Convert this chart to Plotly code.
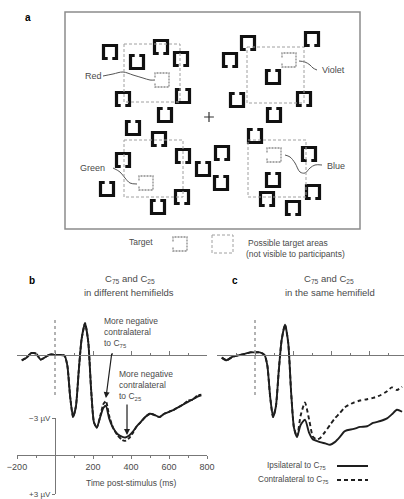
import plotly.graph_objects as go

W, H = 404, 499
def X(px): return px / W
def Y(py): return 1 - py / H

FONT = "Liberation Sans, Arial, sans-serif"
TXT = "#4a4a4a"
INK = "#1e1e1e"

# ---------------- data: ERP waveforms (µV, negative plotted upward) ----------------
t_b = [-175, -150, -125, -100, -75, -50, -25, 0, 25, 50, 65, 80, 95, 110, 125, 140, 158, 175,
       190, 205, 220, 240, 255, 268, 285, 305, 330, 355, 370, 390, 410, 430, 450, 475, 500,
       525, 550, 575, 600, 625, 650, 675, 700, 725, 750, 770]
b_ipsi = [0.4, 0.2, -0.15, -0.1, 0.35, 0.15, -0.05, 0.0, 0.0, 0.05, 0.8, 3.2, 4.7, 3.9, 1.2, -1.2, -2.4, -1.0,
          2.6, 5.1, 5.5, 4.6, 4.0, 3.85, 4.8, 5.5, 6.0, 6.2, 6.25, 6.1, 5.8, 5.4, 5.1, 4.7, 4.45,
          4.55, 4.7, 4.45, 4.3, 4.15, 3.95, 3.75, 3.55, 3.35, 3.15, 3.05]
b_contra = [0.4, 0.2, -0.15, -0.1, 0.35, 0.15, -0.05, 0.0, 0.0, 0.05, 0.8, 3.2, 4.7, 3.9, 1.2, -1.2, -2.4, -1.0,
            2.6, 5.1, 5.5, 4.5, 3.7, 3.5, 4.6, 5.5, 6.1, 6.45, 6.5, 6.3, 5.9, 5.4, 5.1, 4.7, 4.45,
            4.55, 4.7, 4.45, 4.3, 4.15, 3.95, 3.75, 3.45, 3.4, 3.05, 3.0]

t_c = [-175, -150, -120, -80, -50, -25, 0, 25, 50, 65, 80, 95, 110, 125, 140, 158, 175, 190, 205, 221,
       240, 263, 285, 305, 325, 342, 370, 395, 420, 447, 470, 484, 520, 553, 590, 621, 660, 695, 720, 747, 774]
c_ipsi = [0.2, 0.4, 0.15, 0.0, -0.1, -0.2, -0.2, -0.2, 0.0, 0.8, 3.2, 4.7, 3.9, 1.2, -1.1, -2.3, -0.9, 2.8, 5.5, 6.2,
          5.3, 4.9, 5.9, 6.4, 6.5, 6.6, 6.7, 6.8, 6.6, 6.2, 5.8, 5.7, 5.6, 5.45, 5.4, 5.15, 5.0, 4.8, 4.5, 4.15, 4.3]
c_contra = [0.2, 0.4, 0.15, 0.0, -0.1, -0.2, -0.2, -0.2, 0.0, 0.8, 3.2, 4.7, 3.9, 1.2, -1.1, -2.3, -0.9, 2.8, 5.5, 6.2,
            4.6, 3.6, 4.9, 6.2, 6.4, 6.3, 5.8, 5.3, 4.8, 4.4, 4.0, 3.85, 3.6, 3.45, 3.35, 3.25, 3.05, 2.75, 2.45, 2.65, 2.4]

time_ticks = [-200, 200, 400, 600, 800]
time_labels = ["\u2212200", "200", "400", "600", "800"]
zero_ticks = [-200, 0, 200, 400, 600, 800]

# ---------------- data: search display (panel a), pixel-like display units ----------------
item_x = [110, 137, 161, 181, 123, 183, 165, 133, 159, 123, 183, 107, 158, 182, 203, 222, 221,
          230, 248, 312, 273, 237, 304, 274, 255, 309, 273, 313, 267, 293]
item_y = [52, 62, 47, 59, 99, 96, 115, 128, 139, 160, 156, 189, 207, 197, 169, 153, 183,
          60, 43, 39, 77, 100, 99, 115, 136, 154, 180, 192, 199, 208]
item_gap = ["b", "t", "b", "b", "b", "t", "t", "t", "b", "b", "b", "t", "t", "b", "t", "b", "t",
            "b", "b", "b", "t", "t", "b", "t", "t", "b", "t", "b", "b", "b"]
target_names = ["Red", "Violet", "Green", "Blue"]
target_x = [162, 289, 146, 274]
target_y = [80, 60, 183, 155]
label_x = [93, 333, 92, 336]
label_y = [76, 70, 168, 166]
area_x0 = [124, 247, 124, 248]
area_x1 = [180, 304, 183, 306]
area_y0 = [44, 47, 140, 140]
area_y1 = [102, 103, 197, 197]
conn_x = [[103, 113, 123, 133, 143, 150, 155],
          [299, 305, 310, 313, 317],
          [113, 120, 125, 130, 137],
          [285, 290, 295, 300, 305, 310, 315, 322]]
conn_y = [[76, 74, 72, 75, 78, 80, 80],
          [61, 62, 65, 68, 70],
          [168, 172, 178, 183, 184],
          [155, 157, 163, 172, 173, 168, 165, 165]]

fig = go.Figure()

# ---- panel a drawing ----
def c_path(cx, cy, gap, h=6.5, g=2.3):
    s = 1 if gap == "b" else -1
    pts = [(cx - g, cy + s * h), (cx - h, cy + s * h), (cx - h, cy - s * h),
           (cx + h, cy - s * h), (cx + h, cy + s * h), (cx + g, cy + s * h)]
    return [p[0] for p in pts] + [None], [p[1] for p in pts] + [None]

ix, iy = [], []
for cx, cy, gp in zip(item_x, item_y, item_gap):
    a, b = c_path(cx, cy, gp)
    ix += a; iy += b
fig.add_trace(go.Scatter(x=ix, y=iy, mode="lines", line=dict(color="#111", width=3.2),
                         xaxis="x4", yaxis="y4", hoverinfo="skip", showlegend=False))

def target_path(cx, cy, h=7.0, g=2.5):
    pts = [(cx - h, cy - g), (cx - h, cy - h), (cx + h, cy - h), (cx + h, cy + h),
           (cx - h, cy + h), (cx - h, cy + g)]
    return [p[0] for p in pts] + [None], [p[1] for p in pts] + [None]

tx, ty = [], []
for cx, cy in zip(target_x + [180], target_y + [244]):
    a, b = target_path(cx, cy)
    tx += a; ty += b
fig.add_trace(go.Scatter(x=tx, y=ty, mode="lines", line=dict(color="#8a8a8a", width=1.3, dash="2px,1px"),
                         xaxis="x4", yaxis="y4", hoverinfo="skip", showlegend=False))

for cxs, cys in zip(conn_x, conn_y):
    fig.add_trace(go.Scatter(x=cxs, y=cys, mode="lines", line=dict(color="#555", width=1, shape="spline"),
                             xaxis="x4", yaxis="y4", hoverinfo="skip", showlegend=False))

fig.add_trace(go.Scatter(x=[209], y=[117], mode="markers",
                         marker=dict(symbol="cross-thin", size=7, line=dict(color="#333", width=1.2)),
                         xaxis="x4", yaxis="y4", hoverinfo="skip", showlegend=False))

shapes = []
shapes.append(dict(type="rect", xref="x4", yref="y4", x0=65, x1=360, y0=12, y1=229,
                   line=dict(color="#8c8c8c", width=1.5)))
for x0, x1, y0, y1 in zip(area_x0 + [212], area_x1 + [233], area_y0 + [235], area_y1 + [253]):
    shapes.append(dict(type="rect", xref="x4", yref="y4", x0=x0, x1=x1, y0=y0, y1=y1,
                       line=dict(color="#a0a0a0", width=1, dash="3px,2px")))

annotations = []
def ann(x, y, text, size=9, xanchor="center", color=TXT, bold=False, align="center", yanchor="middle"):
    annotations.append(dict(x=x, y=y, xref="paper", yref="paper", text=("<b>%s</b>" % text) if bold else text,
                            showarrow=False, xanchor=xanchor, yanchor=yanchor, align=align,
                            font=dict(family=FONT, size=size, color=color)))

for name, lx, ly in zip(target_names, label_x, label_y):
    ann(X(lx), Y(ly), name, size=9)
ann(X(141), Y(242), "Target", size=8.5)
ann(X(246), Y(243), "Possible target areas", size=8.5, xanchor="left")
ann(X(244), Y(254), "(not visible to participants)", size=8.5, xanchor="left")

ann(X(28), Y(17), "a", size=10, color="#000", bold=True)
ann(X(32), Y(280), "b", size=10, color="#000", bold=True)
ann(X(235), Y(280), "c", size=10, color="#000", bold=True)

ann(X(130), Y(279), "C<sub>75</sub> and C<sub>25</sub>", size=9.5)
ann(X(129), Y(292), "in different hemifields", size=9.5)
ann(X(329), Y(279), "C<sub>75</sub> and C<sub>25</sub>", size=9.5)
ann(X(330), Y(292), "in the same hemifield", size=9.5)

ann(X(102), Y(332), "More negative<br>contralateral<br>to C<sub>75</sub>", size=8.5, xanchor="left", align="left")
ann(X(117), Y(385), "More negative<br>contralateral<br>to C<sub>25</sub>", size=8.5, xanchor="left", align="left")
ann(X(131), Y(483), "Time post-stimulus (ms)", size=8.5)

ann(X(328), Y(466), "Ipsilateral to C<sub>75</sub>", size=8.2, xanchor="right")
ann(X(331), Y(480), "Contralateral to C<sub>75</sub>", size=8.2, xanchor="right")
shapes.append(dict(type="line", xref="paper", yref="paper", x0=X(337), x1=X(368), y0=Y(466), y1=Y(466),
                   line=dict(color=INK, width=2)))
shapes.append(dict(type="line", xref="paper", yref="paper", x0=X(337), x1=X(368), y0=Y(480), y1=Y(480),
                   line=dict(color=INK, width=2, dash="4px,3px")))

# arrows in panel b
annotations.append(dict(x=268, y=3.26, xref="x", yref="y", ax=6, ay=-46, text="", showarrow=True,
                        arrowhead=2, arrowsize=1, arrowwidth=1.2, arrowcolor=INK, standoff=0))
annotations.append(dict(x=379, y=6.06, xref="x", yref="y", ax=0, ay=-32, text="", showarrow=True,
                        arrowhead=2, arrowsize=1, arrowwidth=1.2, arrowcolor=INK, standoff=0))

# dotted vertical lines at t = 0
for xr in ["x", "x5"]:
    shapes.append(dict(type="line", xref=xr, yref="paper", x0=0, x1=0, y0=Y(395), y1=Y(317),
                       line=dict(color="#999", width=1.5, dash="dot")))

# ---- waveforms ----
fig.add_trace(go.Scatter(x=t_b, y=b_contra, mode="lines", line=dict(color=INK, width=1.9, dash="4px,2px", shape="spline", smoothing=0.6),
                         xaxis="x", yaxis="y", showlegend=False, hoverinfo="skip"))
fig.add_trace(go.Scatter(x=t_b, y=b_ipsi, mode="lines", line=dict(color=INK, width=1.9, shape="spline", smoothing=0.6),
                         xaxis="x", yaxis="y", showlegend=False, hoverinfo="skip"))
fig.add_trace(go.Scatter(x=t_c, y=c_contra, mode="lines", line=dict(color=INK, width=1.9, dash="4px,3px", shape="spline", smoothing=0.6),
                         xaxis="x5", yaxis="y5", showlegend=False, hoverinfo="skip"))
fig.add_trace(go.Scatter(x=t_c, y=c_ipsi, mode="lines", line=dict(color=INK, width=1.9, shape="spline", smoothing=0.6),
                         xaxis="x5", yaxis="y5", showlegend=False, hoverinfo="skip"))

# dummy traces to instantiate helper axes
for xa, ya in [("x2", "y"), ("x", "y3"), ("x6", "y5")]:
    fig.add_trace(go.Scatter(x=[0], y=[0], mode="markers", marker=dict(opacity=0), xaxis=xa, yaxis=ya,
                             showlegend=False, hoverinfo="skip"))

y_range = [(497 - 355) / 13.2, (300 - 355) / 13.2]
axcol = "#777"
tickfont = dict(family=FONT, size=9, color=TXT)
minor = dict(tick0=0, dtick=100, ticks="outside", ticklen=2, tickcolor=axcol, showgrid=False)
minor_in = dict(tick0=0, dtick=100, ticks="inside", ticklen=2, tickcolor=axcol, showgrid=False)

fig.update_layout(
    width=W, height=H, margin=dict(l=0, r=0, t=0, b=0, pad=0, autoexpand=False),
    autosize=False,
    paper_bgcolor="white", plot_bgcolor="rgba(0,0,0,0)",
    shapes=shapes, annotations=annotations,
    xaxis=dict(domain=[X(17), X(207)], range=[-200, 800], anchor="free", position=Y(455), automargin=False,
               showline=True, linecolor=axcol, linewidth=1, ticks="outside", ticklen=3, tickcolor=axcol,
               tickvals=time_ticks, ticktext=time_labels, tickfont=tickfont, showgrid=False, zeroline=False,
               minor=minor),
    xaxis2=dict(overlaying="x", range=[-200, 800], anchor="free", position=Y(355), showline=True, automargin=False,
                linecolor=axcol, linewidth=1, ticks="inside", ticklen=4, tickcolor=axcol, tickvals=zero_ticks,
                showticklabels=False, showgrid=False, zeroline=False, minor=minor_in),
    yaxis=dict(domain=[Y(497), Y(300)], range=y_range, visible=False, anchor="x", automargin=False),
    yaxis3=dict(domain=[Y(494), Y(418)], range=[3, -3], anchor="free", position=X(55), side="left", automargin=False,
                showline=True, linecolor=axcol, linewidth=1, ticks="outside", ticklen=3, tickcolor=axcol,
                tickvals=[-3, 3], ticktext=["\u22123 \u00b5V", "+3 \u00b5V"], tickfont=dict(family=FONT, size=8, color=TXT),
                showgrid=False, zeroline=False),
    xaxis5=dict(domain=[X(217), 1], range=[-200, (404 - 255) / 0.19], visible=False, anchor="y5", automargin=False),
    xaxis6=dict(overlaying="x5", range=[-200, (404 - 255) / 0.19], anchor="free", position=Y(355), showline=True,
                automargin=False,
                linecolor=axcol, linewidth=1, ticks="inside", ticklen=4, tickcolor=axcol, tickvals=zero_ticks,
                showticklabels=False, showgrid=False, zeroline=False, minor=minor_in),
    yaxis5=dict(domain=[Y(497), Y(300)], range=y_range, visible=False, anchor="x5", automargin=False),
    xaxis4=dict(domain=[0, 1], range=[0, 404], visible=False, anchor="y4", automargin=False),
    yaxis4=dict(domain=[Y(262), 1], range=[262, 0], visible=False, anchor="x4", automargin=False),
)

fig.write_html("out.html", config={"responsive": False, "displayModeBar": False},
               post_script="document.body.style.margin='0';document.body.style.overflow='hidden';")
